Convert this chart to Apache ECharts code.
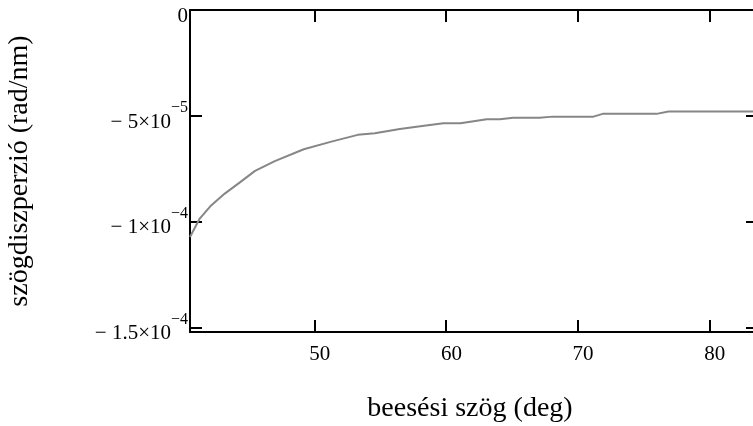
<!DOCTYPE html>
<html>
<head>
<meta charset="utf-8">
<script src="https://cdn.jsdelivr.net/npm/echarts@6.0.0/dist/echarts.min.js"></script>
<style>
  html, body { margin: 0; padding: 0; background: #fff; }
  #chart { width: 753px; height: 426px; }
</style>
</head>
<body>
<div id="chart"></div>
<script>
// beesési szög (deg)
var angles = [40.56, 41.3, 42.1, 43.2, 44.4, 45.5, 47.0, 49.2, 51.3, 53.3, 54.6, 56.5, 58.2,
              59.8, 61.1, 63.1, 64.1, 65.1, 67.1, 68.1, 71.2, 71.9, 76.0, 76.9, 84.0];
// szögdiszperzió (rad/nm)
var dispersion = [-10.71e-5, -9.84e-5, -9.26e-5, -8.66e-5, -8.11e-5, -7.59e-5, -7.13e-5, -6.57e-5,
                  -6.21e-5, -5.89e-5, -5.81e-5, -5.61e-5, -5.47e-5, -5.34e-5, -5.34e-5, -5.15e-5,
                  -5.15e-5, -5.08e-5, -5.08e-5, -5.03e-5, -5.03e-5, -4.90e-5, -4.90e-5, -4.79e-5, -4.79e-5];

var xTicks = [50, 60, 70, 80];
var yTicks = [0, -5e-5, -1e-4, -1.5e-4];
var yTickLabels = ['0', '− 5×10{s|−5}', '− 1×10{s|−4}', '− 1.5×10{s|−4}'];

var font = '"Liberation Serif", "Times New Roman", serif';

var chart = echarts.init(document.getElementById('chart'));

var seriesData = angles.map(function (a, i) { return [a, dispersion[i]]; });

var axisLine = { show: true, onZero: false, lineStyle: { color: '#000', width: 2 } };
var tick = function (vals) {
  return { show: true, inside: true, length: 12, customValues: vals, lineStyle: { color: '#000', width: 2 } };
};

var option = {
  animation: false,
  backgroundColor: '#fff',
  grid: { left: 190, top: 10, width: 568, bottom: 94, outerBoundsMode: 'none', containLabel: false },
  xAxis: [
    {
      type: 'value', min: 40.56, max: 83.7, position: 'bottom',
      name: 'beesési szög (deg)', nameLocation: 'middle', nameGap: 63,
      nameTextStyle: { fontFamily: font, fontSize: 28, color: '#000', padding: [0, 8, 0, 0] },
      axisLine: axisLine, axisTick: tick(xTicks), splitLine: { show: false },
      axisLabel: { customValues: xTicks, margin: 12, fontFamily: font, fontSize: 21, color: '#000', padding: [0, 0, 0, 11] }
    },
    {
      type: 'value', min: 40.56, max: 83.7, position: 'top',
      axisLine: axisLine, axisTick: tick(xTicks), splitLine: { show: false },
      axisLabel: { show: false }
    }
  ],
  yAxis: [
    {
      type: 'value', min: -1.519e-4, max: 0, position: 'left',
      name: 'szögdiszperzió (rad/nm)', nameLocation: 'middle', nameGap: 156,
      nameTextStyle: { fontFamily: font, fontSize: 28, color: '#000' },
      axisLine: axisLine, axisTick: tick(yTicks), splitLine: { show: false },
      axisLabel: {
        customValues: yTicks, margin: 2, fontFamily: font, fontSize: 21, color: '#000',
        formatter: function (v) {
          var best = 0;
          for (var i = 0; i < yTicks.length; i++) {
            if (Math.abs(yTicks[i] - v) < Math.abs(yTicks[best] - v)) best = i;
          }
          // m = main text, s = exponent, z = invisible spacer that sets the line box
          var parts = yTickLabels[best].split('{s|');
          var out = '{m|' + parts[0] + '}';
          if (parts.length > 1) out += '{s|' + parts[1];
          return out + '{z|\u200b}';
        },
        rich: {
          m: { fontFamily: font, fontSize: 21, color: '#000', lineHeight: 20, verticalAlign: 'bottom' },
          s: { fontFamily: font, fontSize: 16, color: '#000', lineHeight: 29, verticalAlign: 'top' },
          z: { fontSize: 1, lineHeight: 33 }
        }
      }
    },
    {
      type: 'value', min: -1.519e-4, max: 0, position: 'right',
      axisLine: axisLine, axisTick: tick(yTicks), splitLine: { show: false },
      axisLabel: { show: false }
    }
  ],
  series: [
    {
      type: 'line',
      data: seriesData,
      showSymbol: false,
      clip: true,
      lineStyle: { color: '#868686', width: 2 }
    }
  ]
};

chart.setOption(option);
</script>
</body>
</html>
